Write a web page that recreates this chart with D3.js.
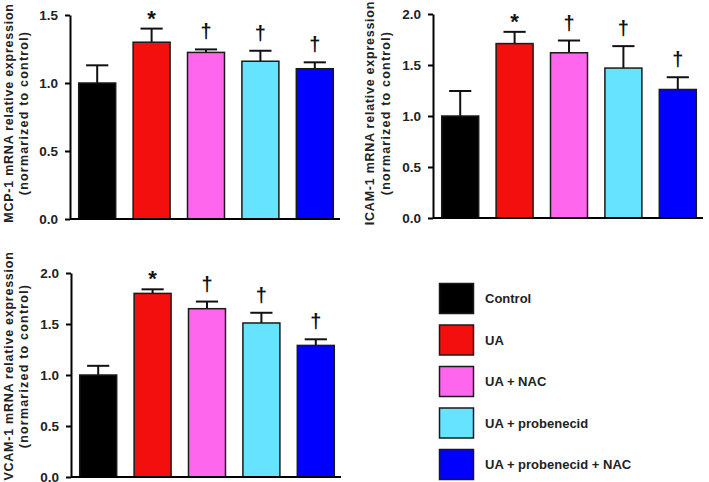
<!DOCTYPE html>
<html><head><meta charset="utf-8">
<script src="https://cdn.jsdelivr.net/npm/d3@7"></script>
<style>body{margin:0;background:#fff}svg{display:block}text{font-family:"Liberation Sans",Arial,sans-serif;font-weight:bold}</style>
</head><body><svg id="c" width="709" height="482"></svg>
<script>
const groups = ["Control","UA","UA + NAC","UA + probenecid","UA + probenecid + NAC"];
const colors = ["#000000","#f40f0f","#ff66ee","#66e3ff","#0000ff"];
const marks = ["", "*", "\u2020", "\u2020", "\u2020"];
const mcp1Mean = [1.00, 1.30, 1.225, 1.16, 1.105];
const mcp1Err  = [0.13, 0.10, 0.022, 0.077, 0.047];
const icam1Mean = [1.00, 1.71, 1.62, 1.47, 1.26];
const icam1Err  = [0.245, 0.115, 0.12, 0.215, 0.12];
const vcam1Mean = [1.00, 1.80, 1.65, 1.51, 1.29];
const vcam1Err  = [0.09, 0.04, 0.07, 0.10, 0.06];
const ticks15 = [0, 0.5, 1.0, 1.5];
const ticks20 = [0, 0.5, 1.0, 1.5, 2.0];
const labelLine2 = "(normarized to control)";

const svg = d3.select("#c");

function panel(cfg){
  const g = svg.append("g");
  const x = d3.scaleBand().domain(groups).range([cfg.x0, cfg.x1]).paddingInner(0.32).paddingOuter(0.16);
  const y = d3.scaleLinear().domain([0, cfg.max]).range([cfg.yb, cfg.yt]);
  const data = groups.map((k,i)=>({k, m: cfg.mean[i], e: cfg.err[i], c: colors[i], s: marks[i]}));
  const cap = x.bandwidth()*0.6;
  data.forEach(d=>{
    const cx = x(d.k)+x.bandwidth()/2;
    g.append("line").attr("x1",cx).attr("x2",cx).attr("y1",y(d.m)).attr("y2",y(d.m+d.e)).attr("stroke","#111").attr("stroke-width",2);
    g.append("line").attr("x1",cx-cap/2).attr("x2",cx+cap/2).attr("y1",y(d.m+d.e)).attr("y2",y(d.m+d.e)).attr("stroke","#111").attr("stroke-width",2);
    if(d.s) g.append("text").attr("x",cx).attr("y",y(d.m+d.e)-(d.s==="*"?3:11)).attr("text-anchor","middle")
      .attr("font-size", d.s==="*"?22:20).attr("fill","#111").text(d.s);
  });
  g.selectAll("rect.bar").data(data).join("rect").attr("class","bar")
    .attr("x",d=>x(d.k)).attr("width",x.bandwidth())
    .attr("y",d=>y(d.m)).attr("height",d=>y(0)-y(d.m))
    .attr("fill",d=>d.c).attr("stroke","#1a1a1a").attr("stroke-width",1.5);
  const ax = g.append("g").attr("transform",`translate(${cfg.x0},0)`)
    .call(d3.axisLeft(y).tickValues(cfg.ticks).tickFormat(d3.format(".1f")).tickSize(5).tickSizeOuter(0).tickPadding(7));
  ax.select(".domain").attr("stroke","#000").attr("stroke-width",2);
  ax.selectAll(".tick line").attr("stroke","#000").attr("stroke-width",2);
  ax.selectAll(".tick text").attr("font-size",13.5).attr("fill","#222").attr("font-family",'"Liberation Sans",Arial,sans-serif').attr("font-weight","bold");
  g.append("line").attr("x1",cfg.x0).attr("x2",cfg.x1-2).attr("y1",y(0)).attr("y2",y(0)).attr("stroke","#000").attr("stroke-width",2);
  g.append("text").attr("transform",`translate(${cfg.l1},${cfg.lc}) rotate(-90)`).attr("text-anchor","middle").attr("font-size",12.5).attr("letter-spacing",0.75).attr("fill","#222").text(cfg.label);
  g.append("text").attr("transform",`translate(${cfg.l2},${cfg.lc}) rotate(-90)`).attr("text-anchor","middle").attr("font-size",12.5).attr("letter-spacing",1.2).attr("fill","#222").text(labelLine2);
}

panel({x0:70, x1:342, yt:15, yb:219, max:1.5, ticks:ticks15, mean:mcp1Mean, err:mcp1Err, label:"MCP-1 mRNA relative expression", l1:12.5, l2:28, lc:113});
panel({x0:433, x1:705, yt:14, yb:218, max:2.0, ticks:ticks20, mean:icam1Mean, err:icam1Err, label:"ICAM-1 mRNA relative expression", l1:373.5, l2:390, lc:113});
panel({x0:71, x1:343, yt:273, yb:477, max:2.0, ticks:ticks20, mean:vcam1Mean, err:vcam1Err, label:"VCAM-1 mRNA relative expression", l1:12.5, l2:28, lc:366});

const lg = svg.append("g");
const ly = d3.scalePoint().domain(groups).range([283.5, 449.5]);
groups.forEach((k,i)=>{
  lg.append("rect").attr("x",439.5).attr("y",ly(k)).attr("width",34).attr("height",30).attr("fill",colors[i]).attr("stroke","#1a1a1a").attr("stroke-width",1.5);
  lg.append("text").attr("x",485).attr("y",ly(k)+15).attr("dy","0.35em").attr("font-size",13).attr("fill","#222").text(k);
});
</script></body></html>
